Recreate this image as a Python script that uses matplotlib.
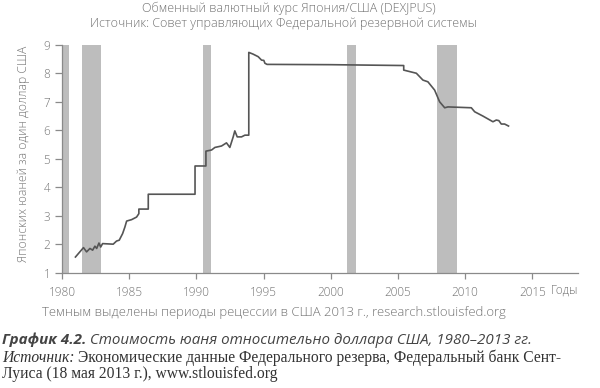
import matplotlib
matplotlib.use("Agg")
import matplotlib.pyplot as plt
import matplotlib.transforms as mtransforms

# exchange rate, yuan per US dollar
years = [1981.0, 1981.6, 1981.83, 1982.08, 1982.28, 1982.45, 1982.58, 1982.75,
         1982.88, 1983.02, 1983.81, 1984.06, 1984.26, 1984.51, 1984.68, 1984.81,
         1985.18, 1985.55, 1985.72, 1985.72, 1986.42, 1986.42, 1989.9, 1989.9,
         1990.71, 1990.71, 1991.13, 1991.38, 1991.87, 1992.24, 1992.49, 1992.74,
         1992.86, 1993.04, 1993.36, 1993.61, 1993.9, 1993.9, 1994.22, 1994.6,
         1994.85, 1995.02, 1995.1, 1995.26, 2000.0, 2005.43, 2005.43, 2006.37,
         2006.86, 2007.23, 2007.73, 2008.1, 2008.48, 2008.72, 2010.46, 2010.71,
         2011.32, 2012.07, 2012.32, 2012.51, 2012.69, 2012.94, 2013.23]
rates = [1.56, 1.89, 1.74, 1.86, 1.80, 1.94, 1.86, 2.05,
         1.91, 2.03, 2.01, 2.12, 2.15, 2.38, 2.61, 2.82,
         2.87, 2.96, 3.08, 3.24, 3.24, 3.76, 3.76, 4.75,
         4.75, 5.27, 5.31, 5.40, 5.45, 5.56, 5.40, 5.77,
         5.98, 5.77, 5.77, 5.83, 5.83, 8.73, 8.67, 8.58,
         8.46, 8.45, 8.35, 8.31, 8.30, 8.27, 8.11, 8.00,
         7.76, 7.70, 7.41, 7.00, 6.79, 6.82, 6.79, 6.65,
         6.50, 6.30, 6.36, 6.34, 6.22, 6.22, 6.15]

# US recessions
rec_start = [1980.0, 1981.5, 1990.5, 2001.2, 2007.9]
rec_end = [1980.5, 1982.9, 1991.1, 2001.9, 2009.4]

x_ticks = [1980, 1985, 1990, 1995, 2000, 2005, 2010, 2015]
y_ticks = [1, 2, 3, 4, 5, 6, 7, 8, 9]

gray_text = "#737373"
sans = "Open Sans"
serif = "Liberation Serif"
W, H = 600, 388

fig = plt.figure(figsize=(6, 3.88), dpi=100)
renderer = fig.canvas.get_renderer()


def fit(texts, width_px):
    """scale font size of texts so their summed width is width_px"""
    w = sum(t.get_window_extent(renderer).width for t in texts)
    for t in texts:
        t.set_fontsize(t.get_fontsize() * width_px / w)


def fx(px):
    return px / W


def fy(px):
    return 1 - px / H


# size of tick labels: "1985" is about 27 px wide
probe = fig.text(0, 0, "1985", family=sans, weight="light", fontsize=9)
fit([probe], 27)
tick_size = probe.get_fontsize()
probe.remove()

ax = fig.add_axes([fx(62), fy(273), 516 / W, 228.3 / H])

for s, e in zip(rec_start, rec_end):
    ax.axvspan(s, e, color="#bdbdbd", lw=0, zorder=1)

ax.plot(years, rates, color="#555555", lw=1.2, zorder=3)

ax.set_xlim(1980, 2018.4)
ax.set_ylim(1, 9)
ax.set_xticks(x_ticks)
ax.set_yticks(y_ticks)
for sp in ["top", "right"]:
    ax.spines[sp].set_visible(False)
for sp in ["left", "bottom"]:
    ax.spines[sp].set_color("#8a8a8a")
    ax.spines[sp].set_linewidth(0.9)
ax.tick_params(axis="x", length=4, width=0.9, color="#8a8a8a", pad=5,
               labelsize=tick_size, labelcolor=gray_text)
ax.tick_params(axis="y", length=5, width=0.9, color="#8a8a8a", pad=3.5,
               labelsize=tick_size, labelcolor=gray_text)
for lab in ax.get_xticklabels() + ax.get_yticklabels():
    lab.set_family(sans)
    lab.set_weight("light")

trans = mtransforms.blended_transform_factory(ax.transData, fig.transFigure)
ax.text(2018.4, fy(290.5), "Годы", transform=trans, ha="right", va="center",
        family=sans, weight="light", fontsize=tick_size, color=gray_text)

ylab = fig.text(fx(24), fy(154), "Японских юаней за один доллар США", rotation=90,
                ha="center", va="center", family=sans, weight="light", fontsize=9,
                color=gray_text)
ylab_w = ylab.get_window_extent(renderer).height
ylab.set_fontsize(ylab.get_fontsize() * 215 / ylab_w)

t1 = fig.text(fx(289), fy(8.3), "Обменный валютный курс Япония/США (DEXJPUS)",
              ha="center", va="center", family=sans, weight="light", fontsize=9,
              color=gray_text)
fit([t1], 294)
t2 = fig.text(fx(283.7), fy(23.3), "Источник: Совет управляющих Федеральной резервной системы",
              ha="center", va="center", family=sans, weight="light", fontsize=9,
              color=gray_text)
fit([t2], 386)
note = fig.text(fx(274), fy(312.7),
                "Темным выделены периоды рецессии в США 2013 г., research.stlouisfed.org",
                ha="center", va="center", family=sans, weight="light", fontsize=9,
                color=gray_text)
fit([note], 467)

# caption
cap_a = fig.text(fx(2), fy(340), "График 4.2.", ha="left", va="center",
                 family=sans, style="italic", weight="bold", fontsize=11, color="#444444")
cap_b = fig.text(0, fy(340), " Стоимость юаня относительно доллара США, 1980–2013 гг.",
                 ha="left", va="center", family=sans, style="italic", fontsize=11,
                 color="#444444")
fit([cap_a, cap_b], 531)
cap_b.set_x(cap_a.get_window_extent(renderer).x1 / W)

src_a = fig.text(fx(2), fy(358), "Источник:", ha="left", va="center",
                 family=serif, style="italic", fontsize=10, color="#333333")
src_b = fig.text(0, fy(358),
                 " Экономические данные Федерального резерва, Федеральный банк Сент-",
                 ha="left", va="center", family=serif, fontsize=10, color="#333333")
fit([src_a, src_b], 563)
src_b.set_x(src_a.get_window_extent(renderer).x1 / W)
fig.text(fx(2), fy(374), "Луиса (18 мая 2013 г.), www.stlouisfed.org",
         ha="left", va="center", family=serif, fontsize=src_b.get_fontsize(),
         color="#333333")

fig.savefig("out.png", dpi=100)
